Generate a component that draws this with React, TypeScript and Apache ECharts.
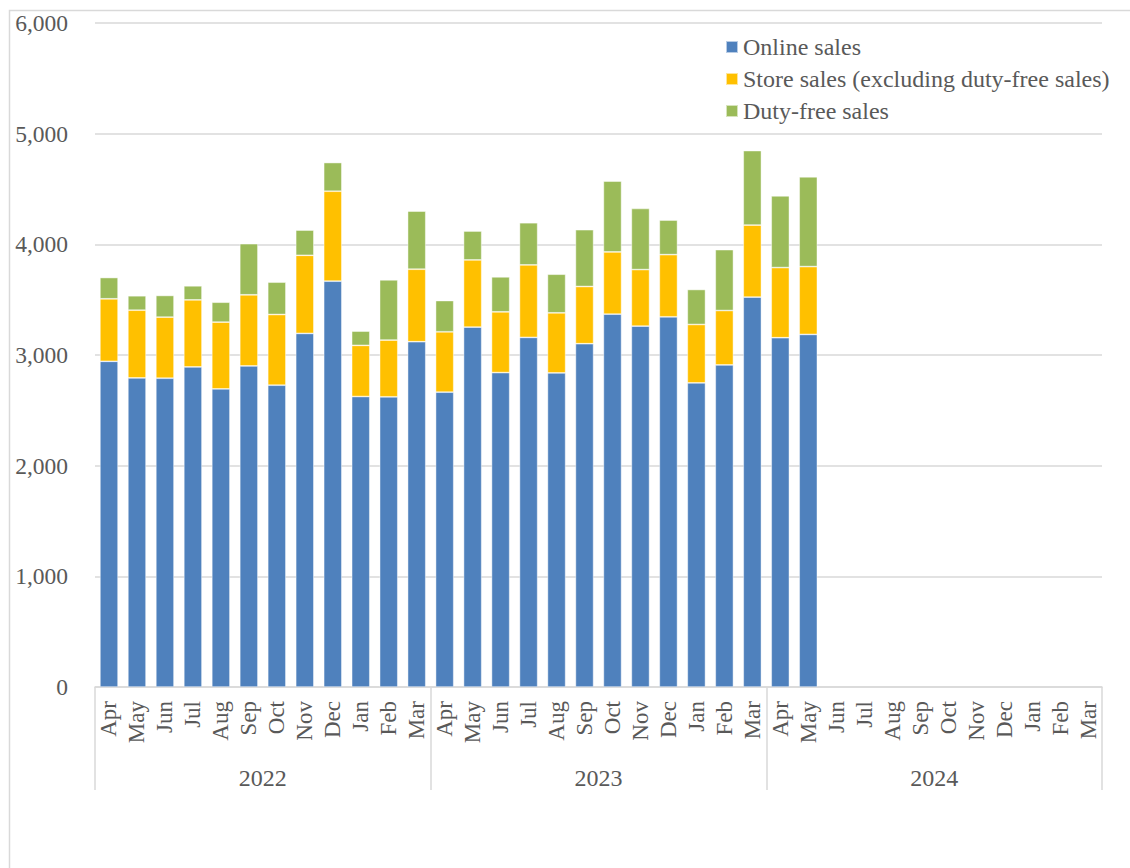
import React, { useEffect, useRef } from "react";
import * as echarts from "echarts";

const months = [
  "Apr", "May", "Jun", "Jul", "Aug", "Sep", "Oct", "Nov", "Dec", "Jan", "Feb", "Mar",
  "Apr", "May", "Jun", "Jul", "Aug", "Sep", "Oct", "Nov", "Dec", "Jan", "Feb", "Mar",
  "Apr", "May", "Jun", "Jul", "Aug", "Sep", "Oct", "Nov", "Dec", "Jan", "Feb", "Mar",
];
const years = ["2022", "2023", "2024"];

const onlineSales = [
  2943, 2793, 2790, 2892, 2694, 2901, 2727, 3195, 3667, 2625, 2622, 3120,
  2664, 3252, 2841, 3159, 2838, 3102, 3369, 3261, 3345, 2748, 2910, 3523,
  3156, 3186, null, null, null, null, null, null, null, null, null, null,
];
const storeSales = [
  565, 612, 552, 606, 603, 643, 639, 706, 813, 462, 513, 655,
  546, 607, 549, 655, 543, 517, 562, 511, 562, 528, 492, 651,
  634, 613, null, null, null, null, null, null, null, null, null, null,
];
const dutyFreeSales = [
  192, 130, 196, 127, 180, 462, 292, 228, 259, 129, 544, 525,
  282, 261, 316, 381, 349, 513, 640, 552, 312, 316, 550, 673,
  648, 811, null, null, null, null, null, null, null, null, null, null,
];
const yTicks = { min: 0, max: 6000, interval: 1000 };

const FONT = "Liberation Serif";
const TEXT = "#595959";
const GRID = "#d9d9d9";

export default function App() {
  const ref = useRef<HTMLDivElement>(null);
  useEffect(() => {
    if (!ref.current) return;
    const chart = echarts.init(ref.current, undefined, { renderer: "svg" });
    const itemStyle = (color: string) => ({
      color,
      borderColor: "rgba(255,255,255,0.6)",
      borderWidth: 0.75,
    });
    chart.setOption({
      animation: false,
      backgroundColor: "#ffffff",
      textStyle: { fontFamily: FONT },
      graphic: [
        {
          type: "rect",
          shape: { x: 9.5, y: 10.5, width: 1300, height: 1000 },
          style: { fill: "none", stroke: GRID, lineWidth: 1.5 },
          silent: true,
        },
      ],
      legend: {
        orient: "vertical",
        left: 725,
        top: 35,
        padding: 0,
        itemWidth: 12,
        itemHeight: 12,
        itemGap: 8,
        icon: "rect",
        textStyle: { fontSize: 24, color: TEXT, fontFamily: FONT },
        data: [
          "Online sales",
          "Store sales (excluding duty-free sales)",
          "Duty-free sales",
        ],
      },
      grid: { left: 95, right: 28, top: 23, bottom: 181, containLabel: false },
      xAxis: [
        {
          type: "category",
          data: months,
          position: "bottom",
          axisLine: { show: true, lineStyle: { color: GRID, width: 1.5 } },
          axisTick: { show: false },
          axisLabel: {
            interval: 0,
            rotate: 90,
            margin: 14,
            fontSize: 23,
            color: TEXT,
            fontFamily: FONT,
          },
          splitLine: { show: false },
        },
        {
          type: "category",
          data: years,
          position: "bottom",
          offset: 0,
          axisLine: { show: false },
          axisTick: {
            show: true,
            length: 103,
            interval: 0,
            lineStyle: { color: GRID, width: 1.5 },
          },
          axisLabel: {
            interval: 0,
            margin: 79,
            fontSize: 24,
            color: TEXT,
            fontFamily: FONT,
          },
          splitLine: { show: false },
        },
      ],
      yAxis: {
        type: "value",
        min: yTicks.min,
        max: yTicks.max,
        interval: yTicks.interval,
        axisLine: { show: false },
        axisTick: { show: false },
        axisLabel: {
          margin: 27,
          fontSize: 23.5,
          color: TEXT,
          fontFamily: FONT,
          formatter: (v: number) => v.toLocaleString("en-US"),
        },
        splitLine: { lineStyle: { color: GRID, width: 1.5 } },
      },
      series: [
        {
          name: "Online sales",
          type: "bar",
          stack: "total",
          barCategoryGap: "35%",
          data: onlineSales,
          itemStyle: itemStyle("#4f81bd"),
        },
        {
          name: "Store sales (excluding duty-free sales)",
          type: "bar",
          stack: "total",
          barCategoryGap: "35%",
          data: storeSales,
          itemStyle: itemStyle("#ffc000"),
        },
        {
          name: "Duty-free sales",
          type: "bar",
          stack: "total",
          barCategoryGap: "35%",
          data: dutyFreeSales,
          itemStyle: itemStyle("#9bbb59"),
        },
      ],
    });
    return () => chart.dispose();
  }, []);
  return (
    <div
      ref={ref}
      style={{ position: "absolute", left: 0, top: 0, width: 1130, height: 868 }}
    />
  );
}
